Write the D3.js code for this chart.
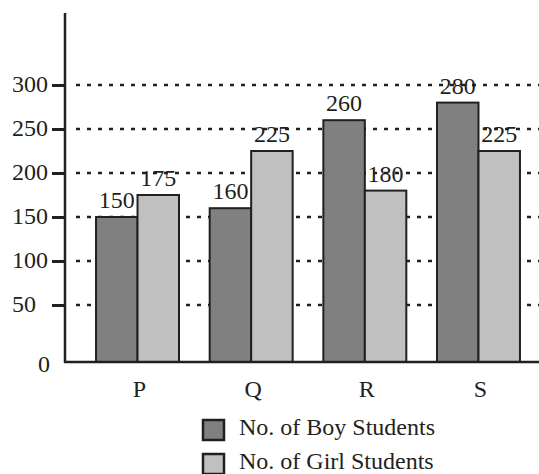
<!DOCTYPE html>
<html>
<head>
<meta charset="utf-8">
<script src="https://cdn.jsdelivr.net/npm/d3@7"></script>
<style>
  html, body { margin: 0; padding: 0; background: #ffffff; }
  svg { display: block; }
  text { font-family: "Liberation Serif", "Times New Roman", serif; fill: #231f20; }
</style>
</head>
<body>
<svg id="chart" width="539" height="474"></svg>
<script>
// Student counts per school
const categories = ["P", "Q", "R", "S"];
const boyStudents = [150, 160, 260, 280];
const girlStudents = [175, 225, 180, 225];
const seriesNames = ["No. of Boy Students", "No. of Girl Students"];
const yTicks = [50, 100, 150, 200, 250, 300];

const W = 539, H = 474;
const axisX = 65, axisTop = 13, baseY = 362, rightEdge = 539;
const ink = "#231f20";
const colors = ["#808080", "#c0c0c0"];
const fontSize = 24;

const svg = d3.select("#chart");

const y = d3.scaleLinear().domain([0, 300]).range([349, 85]);

const x = d3.scaleBand()
  .domain(categories)
  .range([axisX, 551])
  .paddingInner(0.27)
  .paddingOuter(0.273);

const xInner = d3.scaleBand()
  .domain([0, 1])
  .range([0, x.bandwidth()]);

// dashed gridlines behind the bars
svg.append("g")
  .selectAll("line")
  .data(yTicks)
  .join("line")
  .attr("x1", 76)
  .attr("x2", rightEdge)
  .attr("y1", d => y(d))
  .attr("y2", d => y(d))
  .attr("stroke", ink)
  .attr("stroke-width", 2.5)
  .attr("stroke-dasharray", "4,7");

// bars
const rows = categories.map((c, i) => ({ cat: c, values: [boyStudents[i], girlStudents[i]] }));

const groups = svg.append("g")
  .selectAll("g")
  .data(rows)
  .join("g")
  .attr("transform", d => `translate(${x(d.cat)},0)`);

groups.selectAll("rect")
  .data(d => d.values.map((v, k) => ({ v, k })))
  .join("rect")
  .attr("x", d => xInner(d.k))
  .attr("width", xInner.bandwidth())
  .attr("y", d => y(d.v))
  .attr("height", d => baseY - y(d.v))
  .attr("fill", d => colors[d.k])
  .attr("stroke", ink)
  .attr("stroke-width", 2);

groups.selectAll("text.value")
  .data(d => d.values.map((v, k) => ({ v, k })))
  .join("text")
  .attr("class", "value")
  .attr("x", d => xInner(d.k) + xInner.bandwidth() / 2)
  .attr("y", d => y(d.v) - 9)
  .attr("text-anchor", "middle")
  .attr("font-size", fontSize)
  .text(d => d.v);

// y axis with ticks
const yAxis = d3.axisLeft(y)
  .tickValues(yTicks)
  .tickSize(13)
  .tickPadding(0)
  .tickFormat(d3.format("d"));

const gy = svg.append("g")
  .attr("transform", `translate(${axisX},0)`)
  .call(yAxis);
gy.select(".domain").remove();
gy.selectAll(".tick line").attr("stroke", ink).attr("stroke-width", 3);
gy.selectAll(".tick text")
  .attr("x", 12 - axisX)
  .attr("dy", "0.26em")
  .attr("text-anchor", "start")
  .attr("font-family", "Liberation Serif, Times New Roman, serif")
  .attr("font-size", fontSize)
  .attr("fill", ink);

svg.append("line")
  .attr("x1", axisX).attr("x2", axisX)
  .attr("y1", axisTop).attr("y2", baseY + 1)
  .attr("stroke", ink).attr("stroke-width", 2.5);

svg.append("line")
  .attr("x1", axisX - 1).attr("x2", rightEdge)
  .attr("y1", baseY).attr("y2", baseY)
  .attr("stroke", ink).attr("stroke-width", 2.5);

svg.append("text")
  .attr("x", 44)
  .attr("y", 372)
  .attr("text-anchor", "middle")
  .attr("font-size", fontSize)
  .text("0");

// category labels
svg.append("g")
  .selectAll("text")
  .data(categories)
  .join("text")
  .attr("x", d => x(d) + x.bandwidth() / 2 + 2)
  .attr("y", 397)
  .attr("text-anchor", "middle")
  .attr("font-size", fontSize)
  .text(d => d);

// legend
const legend = svg.append("g")
  .selectAll("g")
  .data(seriesNames)
  .join("g")
  .attr("transform", (d, i) => `translate(203,${420 + i * 34})`);

legend.append("rect")
  .attr("width", 21)
  .attr("height", 20)
  .attr("fill", (d, i) => colors[i])
  .attr("stroke", ink)
  .attr("stroke-width", 2.5);

legend.append("text")
  .attr("x", 36)
  .attr("y", 15)
  .attr("font-size", fontSize)
  .text(d => d);
</script>
</body>
</html>
